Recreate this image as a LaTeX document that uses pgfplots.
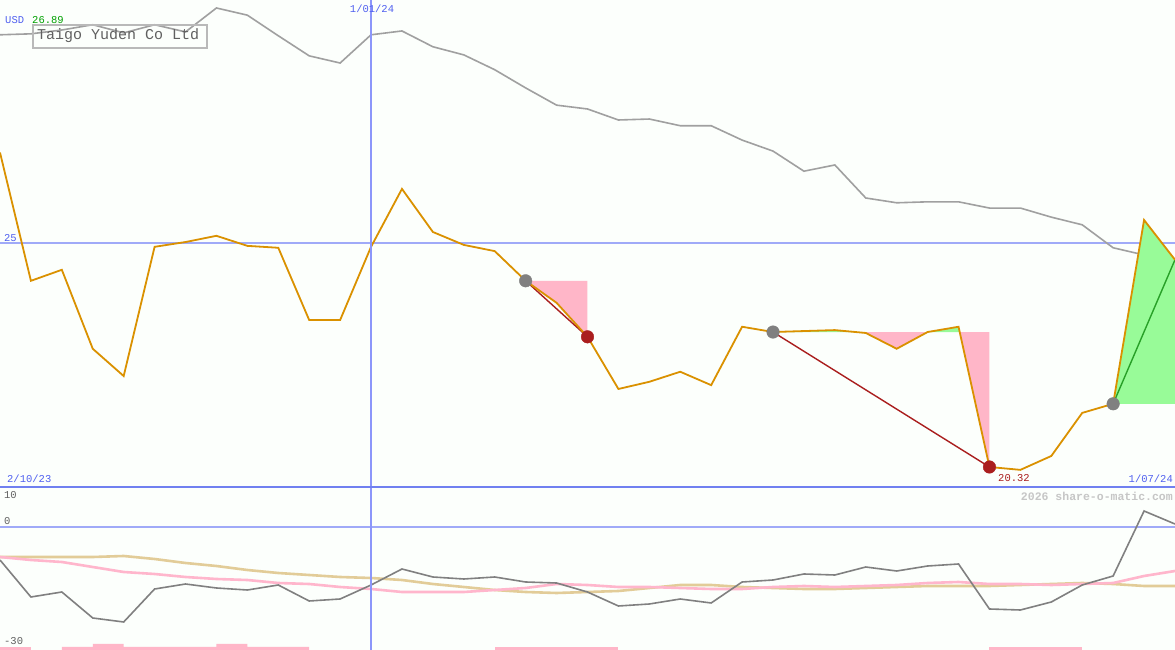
\documentclass[border=0pt]{standalone}
\usepackage{pgfplots}
\pgfplotsset{compat=1.18}
\usepackage{fontspec}
\setmainfont{Liberation Mono}

\definecolor{bg}{RGB}{252,255,252}
\definecolor{orangeln}{RGB}{218,145,0}
\definecolor{greyln}{RGB}{160,160,160}
\definecolor{darkgrey}{RGB}{128,128,128}
\definecolor{tanln}{RGB}{226,204,152}
\definecolor{pinkln}{RGB}{255,182,204}
\definecolor{pinkf}{RGB}{255,182,200}
\definecolor{greenf}{RGB}{152,251,152}
\definecolor{greenln}{RGB}{40,160,40}
\definecolor{darkred}{RGB}{170,30,30}
\definecolor{bluelab}{RGB}{80,96,240}
\definecolor{blueln}{RGB}{160,170,248}
\definecolor{bluevert}{RGB}{140,150,250}
\definecolor{bluesep}{RGB}{112,128,240}
\definecolor{greenlab}{RGB}{0,160,0}
\definecolor{greylab}{RGB}{96,96,96}

\begin{document}
\begin{tikzpicture}[x=1pt,y=1pt]
\useasboundingbox (0,0) rectangle (1175,650);
\fill[bg] (0,0) rectangle (1175,650);

% price panel
\begin{axis}[at={(0,163pt)}, anchor=south west, scale only axis,
    width=1175pt, height=487pt, hide axis,
    xmin=0, xmax=38, ymin=19.902, ymax=30.077]
\draw[blueln, line width=2pt] (axis cs:0,25) -- (axis cs:38,25);
% other line (grey)
\addplot[greyln, line width=1.6pt] coordinates {
(0,29.35) (1,29.37) (2,29.45) (3,29.56) (4,29.39) (5,29.56) (6,29.41) (7,29.91)
(8,29.76) (9,29.33) (10,28.91) (11,28.76) (12,29.35) (13,29.43) (14,29.10) (15,28.93)
(16,28.62) (17,28.24) (18,27.88) (19,27.80) (20,27.57) (21,27.59) (22,27.45) (23,27.45)
(24,27.15) (25,26.92) (26,26.50) (27,26.63) (28,25.94) (29,25.84) (30,25.86) (31,25.86)
(32,25.73) (33,25.73) (34,25.54) (35,25.38) (36,24.90) (37,24.75) (38,24.67)};
% falls and rise
\addplot[fill=pinkf, draw=none] coordinates {(17,24.21) (18,23.75) (19,23.04) (19,24.21)} -- cycle;
\addplot[fill=pinkf, draw=none] coordinates {(27.6,23.14) (28,23.12) (29,22.79) (30,23.14)} -- cycle;
\addplot[fill=pinkf, draw=none] coordinates {(31.04,23.14) (32,20.32) (32,23.14)} -- cycle;
\addplot[fill=greenf, draw=none] coordinates {(25,23.14) (26,23.16) (27,23.18) (27.6,23.14)} -- cycle;
\addplot[fill=greenf, draw=none] coordinates {(30,23.14) (31,23.245) (31.04,23.14)} -- cycle;
\addplot[fill=greenf, draw=none] coordinates {(36,21.64) (37,25.48) (38,24.65) (38,21.64)} -- cycle;
\addplot[darkred, line width=1.4pt] coordinates {(17,24.21) (19,23.04)};
\addplot[darkred, line width=1.4pt] coordinates {(25,23.14) (32,20.32)};
\addplot[greenln, line width=1.4pt] coordinates {(36,21.64) (38,24.65)};
% share price
\addplot[orangeln, line width=1.8pt] coordinates {
(0,26.89) (1,24.21) (2,24.44) (3,22.79) (4,22.22) (5,24.92) (6,25.02) (7,25.15)
(8,24.94) (9,24.90) (10,23.39) (11,23.39) (12,24.92) (13,26.13) (14,25.23) (15,24.96)
(16,24.83) (17,24.21) (18,23.75) (19,23.04) (20,21.95) (21,22.10) (22,22.31) (23,22.03)
(24,23.25) (25,23.14) (26,23.16) (27,23.18) (28,23.12) (29,22.79) (30,23.14) (31,23.25)
(32,20.32) (33,20.26) (34,20.55) (35,21.45) (36,21.64) (37,25.48) (38,24.65)};
\addplot[only marks, mark=*, mark size=6.3pt, darkgrey] coordinates {(17,24.21) (25,23.14) (36,21.64)};
\addplot[only marks, mark=*, mark size=6.3pt, darkred] coordinates {(19,23.04) (32,20.32)};
\end{axis}

% indicator panel
\begin{axis}[at={(0,0)}, anchor=south west, scale only axis,
    width=1175pt, height=163pt, hide axis,
    xmin=0, xmax=38, ymin=-30.75, ymax=10]
\draw[blueln, line width=2pt] (axis cs:0,0) -- (axis cs:38,0);
\addplot[fill=pinkf, draw=none] coordinates {(0,-30.75) (0,-30) (1,-30) (1,-30.75)} -- cycle;
\addplot[fill=pinkf, draw=none] coordinates {(2,-30.75) (2,-30) (3,-30) (3,-29.25) (4,-29.25) (4,-30)
  (7,-30) (7,-29.25) (8,-29.25) (8,-30) (10,-30) (10,-30.75)} -- cycle;
\addplot[fill=pinkf, draw=none] coordinates {(16,-30.75) (16,-30) (20,-30) (20,-30.75)} -- cycle;
\addplot[fill=pinkf, draw=none] coordinates {(32,-30.75) (32,-30) (35,-30) (35,-30.75)} -- cycle;
\addplot[tanln, line width=2.6pt] coordinates {
(0,-7.5) (1,-7.5) (2,-7.5) (3,-7.5) (4,-7.25) (5,-8) (6,-9) (7,-9.75)
(8,-10.75) (9,-11.5) (10,-12) (11,-12.5) (12,-12.75) (13,-13.25) (14,-14.25) (15,-15)
(16,-15.75) (17,-16.25) (18,-16.5) (19,-16.25) (20,-16) (21,-15.25) (22,-14.5) (23,-14.5)
(24,-15) (25,-15.25) (26,-15.5) (27,-15.5) (28,-15.25) (29,-15) (30,-14.75) (31,-14.75)
(32,-14.75) (33,-14.5) (34,-14.25) (35,-14) (36,-14.25) (37,-14.75) (38,-14.75)};
\addplot[pinkln, line width=2.6pt] coordinates {
(0,-7.5) (1,-8.25) (2,-8.75) (3,-10) (4,-11.25) (5,-11.75) (6,-12.5) (7,-13)
(8,-13.25) (9,-14) (10,-14.25) (11,-15) (12,-15.5) (13,-16.25) (14,-16.25) (15,-16.25)
(16,-15.75) (17,-15.25) (18,-14.25) (19,-14.5) (20,-15) (21,-15) (22,-15.25) (23,-15.5)
(24,-15.5) (25,-15) (26,-14.75) (27,-15) (28,-14.75) (29,-14.5) (30,-14) (31,-13.75)
(32,-14.25) (33,-14.25) (34,-14.5) (35,-14.25) (36,-14) (37,-12.25) (38,-11)};
\addplot[darkgrey, line width=1.6pt] coordinates {
(0,-8.25) (1,-17.5) (2,-16.25) (3,-22.75) (4,-23.75) (5,-15.5) (6,-14.25) (7,-15.25)
(8,-15.75) (9,-14.5) (10,-18.5) (11,-18) (12,-14.5) (13,-10.5) (14,-12.5) (15,-13)
(16,-12.5) (17,-13.75) (18,-14) (19,-16.25) (20,-19.75) (21,-19.25) (22,-18) (23,-19)
(24,-13.75) (25,-13.25) (26,-11.75) (27,-12) (28,-10) (29,-11) (30,-9.75) (31,-9.25)
(32,-20.5) (33,-20.75) (34,-18.75) (35,-14.5) (36,-12.25) (37,4) (38,0.75)};
\end{axis}

\draw[bluevert, line width=1.2pt] (371.05,0) -- (371.05,650);
\draw[bluesep, line width=2.6pt] (0,163) -- (1175,163);

\begin{scope}[every node/.style={inner sep=0pt, font=\fontsize{10.5}{12}\selectfont}]
\node[anchor=west, text=bluelab] at (5,630) {USD};
\node[anchor=west, text=greenlab] at (32,630) {26.89};
\draw[gray!55, line width=2pt] (33,602) rectangle (207,625);
\node[anchor=west, text=greylab, font=\fontsize{15}{17}\selectfont] at (37,614) {Taigo Yuden Co Ltd};
\node[text=bluelab] at (372,641) {1/01/24};
\node[anchor=west, text=bluelab] at (4,412) {25};
\node[anchor=west, text=bluelab] at (7,171) {2/10/23};
\node[anchor=east, text=bluelab] at (1173,171) {1/07/24};
\node[anchor=west, text=darkred] at (998,172) {20.32};
\node[anchor=east, text=gray!45, font=\fontsize{11.5}{13}\selectfont\bfseries] at (1173,154) {2026 share-o-matic.com};
\node[anchor=west, text=greylab] at (4,155) {10};
\node[anchor=west, text=greylab] at (4,129) {0};
\node[anchor=west, text=greylab] at (4,9) {-30};
\end{scope}
\end{tikzpicture}
\end{document}
